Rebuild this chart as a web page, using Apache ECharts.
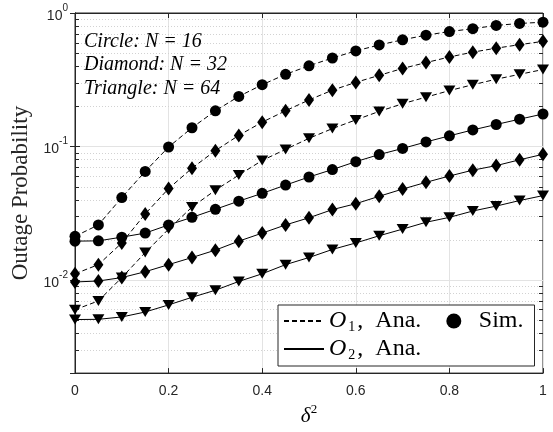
<!DOCTYPE html>
<html>
<head>
<meta charset="utf-8">
<script src="https://cdn.jsdelivr.net/npm/echarts@6/dist/echarts.min.js"></script>
<style>
  html, body { margin: 0; padding: 0; background: #fff; }
  #chart { width: 553px; height: 432px; }
</style>
</head>
<body>
<div id="chart"></div>
<script>
// δ² sweep
const delta2 = [0, 0.05, 0.1, 0.15, 0.2, 0.25, 0.3, 0.35, 0.4, 0.45, 0.5,
                0.55, 0.6, 0.65, 0.7, 0.75, 0.8, 0.85, 0.9, 0.95, 1];

// Outage probability, scheme O1 (dashed)
const o1N16 = [0.0212, 0.0258, 0.0414, 0.065, 0.099, 0.138, 0.185, 0.237, 0.29, 0.347, 0.402,
               0.46, 0.52, 0.576, 0.63, 0.682, 0.726, 0.763, 0.807, 0.835, 0.853];
const o1N32 = [0.0111, 0.013, 0.0189, 0.0312, 0.0483, 0.0687, 0.093, 0.121, 0.152, 0.185, 0.223,
               0.264, 0.302, 0.341, 0.384, 0.425, 0.468, 0.509, 0.545, 0.579, 0.613];
const o1N64 = [0.00597, 0.00695, 0.0104, 0.016, 0.024, 0.0351, 0.047, 0.061, 0.0785, 0.095, 0.115,
               0.136, 0.158, 0.183, 0.209, 0.234, 0.262, 0.29, 0.319, 0.347, 0.377];

// Outage probability, scheme O2 (solid)
const o2N16 = [0.0195, 0.0196, 0.0209, 0.0224, 0.0258, 0.0294, 0.0338, 0.0389, 0.0445, 0.0513, 0.059,
               0.0671, 0.0769, 0.0869, 0.0966, 0.108, 0.12, 0.133, 0.146, 0.16, 0.175];
const o2N32 = [0.00964, 0.0098, 0.0104, 0.0115, 0.013, 0.0147, 0.0167, 0.0195, 0.0224, 0.0258, 0.0292,
               0.0336, 0.0372, 0.0423, 0.0479, 0.0538, 0.06, 0.0664, 0.0718, 0.0794, 0.0873];
const o2N64 = [0.00504, 0.00506, 0.00527, 0.00574, 0.00649, 0.0074, 0.00836, 0.00973, 0.0111, 0.013, 0.0147,
               0.0169, 0.0189, 0.0214, 0.024, 0.027, 0.0294, 0.0328, 0.0357, 0.0393, 0.0428];

// x tick labels
const xTicks = [0, 0.2, 0.4, 0.6, 0.8, 1];
// minor log grid values between decades
const minorGrid = [0.003, 0.004, 0.005, 0.006, 0.007, 0.008, 0.009,
                   0.02, 0.03, 0.04, 0.05, 0.06, 0.07, 0.08, 0.09,
                   0.2, 0.3, 0.4, 0.5, 0.6, 0.7, 0.8, 0.9];
const noteLines = ['Circle: N = 16', 'Diamond: N = 32', 'Triangle: N = 64'];

const AXIS = '#262626';
const GRID = '#e3e3e3';
const SERIF = '"Liberation Serif", "DejaVu Serif", serif';
const SANS = '"Liberation Sans", Arial, sans-serif';

const marks = {
  circle:   { symbol: 'circle', size: 11, rotate: 0 },
  diamond:  { symbol: 'diamond', size: [10, 14], rotate: 0 },
  triangle: { symbol: 'triangle', size: [12, 10], rotate: 180 }
};

const curves = [
  { scheme: 'O1', values: o1N16, mark: 'circle' },
  { scheme: 'O1', values: o1N32, mark: 'diamond' },
  { scheme: 'O1', values: o1N64, mark: 'triangle' },
  { scheme: 'O2', values: o2N16, mark: 'circle' },
  { scheme: 'O2', values: o2N32, mark: 'diamond' },
  { scheme: 'O2', values: o2N64, mark: 'triangle' }
];

const pairs = vals => delta2.map((x, i) => [x, vals[i]]);

const series = [];

// dotted minor grid lines plus the small inner ticks on both vertical edges
series.push({
  type: 'custom',
  silent: true,
  z: 1,
  data: minorGrid.map(v => [0, v]),
  encode: { x: 0, y: 1 },
  renderItem: (params, api) => {
    const cs = params.coordSys;
    const y = Math.round(api.coord([0, api.value(1)])[1]) + 0.5;
    const x0 = cs.x, x1 = cs.x + cs.width;
    return {
      type: 'group',
      children: [
        { type: 'line', shape: { x1: x0, y1: y, x2: x1, y2: y },
          style: { stroke: '#d2d2d2', lineWidth: 1, lineDash: [1, 2] } },
        { type: 'line', shape: { x1: x0, y1: y, x2: x0 + 4, y2: y },
          style: { stroke: AXIS, lineWidth: 1 } },
        { type: 'line', shape: { x1: x1 - 4, y1: y, x2: x1, y2: y },
          style: { stroke: AXIS, lineWidth: 1 } }
      ]
    };
  }
});

curves.forEach(c => {
  series.push({
    name: c.scheme,
    type: 'line',
    data: pairs(c.values),
    symbol: 'none',
    z: 3,
    silent: true,
    lineStyle: { color: '#000', width: 1, type: c.scheme === 'O1' ? [5, 3] : 'solid' },
    itemStyle: { color: '#000' }
  });
});

curves.forEach(c => {
  const m = marks[c.mark];
  series.push({
    name: 'Sim.',
    type: 'scatter',
    data: pairs(c.values),
    symbol: m.symbol,
    symbolSize: m.size,
    symbolRotate: m.rotate,
    z: 4,
    silent: true,
    itemStyle: { color: '#000', opacity: 1 }
  });
});

const decadeLabel = v => {
  const e = Math.log10(v);
  const r = Math.round(e);
  if (Math.abs(e - r) > 1e-6) return '';
  return '{b|10}{p|' + r + '}';
};

const lineOnly = { opacity: 0 };

const chart = echarts.init(document.getElementById('chart'), null, { renderer: 'canvas' });
chart.setOption({
  animation: false,
  backgroundColor: '#fff',
  grid: { left: 75, right: 10, top: 13, bottom: 52, show: true, borderColor: AXIS, borderWidth: 1, backgroundColor: 'transparent' },
  xAxis: [{
    type: 'value', min: 0, max: 1, interval: 0.2,
    name: '{d|δ}{s|2}', nameLocation: 'middle', nameGap: 27,
    nameTextStyle: {
      rich: {
        d: { fontFamily: SERIF, fontStyle: 'italic', fontSize: 21, color: '#000', lineHeight: 24, verticalAlign: 'bottom' },
        s: { fontFamily: SERIF, fontSize: 13, color: '#000', lineHeight: 13, verticalAlign: 'top' }
      }
    },
    axisLine: { show: true, lineStyle: { color: AXIS, width: 1 } },
    axisTick: { show: true, inside: true, length: 5, lineStyle: { color: AXIS } },
    axisLabel: { margin: 11, fontFamily: SANS, fontSize: 14, color: AXIS,
                 formatter: v => xTicks.includes(+v.toFixed(2)) ? String(+v.toFixed(2)) : '' },
    splitLine: { show: true, lineStyle: { color: GRID, width: 1 } }
  }, {
    type: 'value', min: 0, max: 1, interval: 0.2, position: 'top',
    axisLine: { show: true, lineStyle: { color: AXIS, width: 1 } },
    axisTick: { show: true, inside: true, length: 5, lineStyle: { color: AXIS } },
    axisLabel: { show: false }, splitLine: { show: false }
  }],
  yAxis: [{
    type: 'log', logBase: 10, min: 0.002, max: 1,
    name: 'Outage Probability', nameLocation: 'middle', nameGap: 39,
    nameTextStyle: { fontFamily: SERIF, fontSize: 23, color: '#262626' },
    axisLine: { show: true, lineStyle: { color: AXIS, width: 1 } },
    axisTick: { show: true, inside: true, length: 5, lineStyle: { color: AXIS } },
    axisLabel: {
      margin: 7, showMinLabel: false, formatter: decadeLabel,
      rich: {
        b: { fontFamily: SANS, fontSize: 14, color: AXIS, lineHeight: 20, verticalAlign: 'bottom' },
        p: { fontFamily: SANS, fontSize: 10, color: AXIS, lineHeight: 10, verticalAlign: 'top' }
      }
    },
    splitLine: { show: true, lineStyle: { color: GRID, width: 1 } }
  }, {
    type: 'log', logBase: 10, min: 0.002, max: 1, position: 'right',
    axisLine: { show: true, lineStyle: { color: AXIS, width: 1 } },
    axisTick: { show: true, inside: true, length: 5, lineStyle: { color: AXIS } },
    axisLabel: { show: false }, splitLine: { show: false }
  }],
  legend: {
    data: [
      { name: 'O1', itemStyle: lineOnly },
      { name: 'Sim.', icon: 'circle' },
      { name: 'O2', itemStyle: lineOnly }
    ],
    left: 278, top: 305, width: 252,
    orient: 'horizontal',
    selectedMode: false,
    itemWidth: 40, itemHeight: 15, itemGap: 3,
    padding: [4, 4, 4, 5],
    backgroundColor: '#fff',
    borderColor: AXIS, borderWidth: 1, borderRadius: 0,
    formatter: name => name === 'Sim.' ? '{t|Sim.}' : '{o|O}{s|' + name.charAt(1) + '}{u|,  Ana.}',
    textStyle: {
      rich: {
        o: { fontFamily: SERIF, fontStyle: 'italic', fontSize: 24, color: '#000', lineHeight: 26, verticalAlign: 'middle', padding: [0, 1, 0, 0] },
        s: { fontFamily: SERIF, fontSize: 14, color: '#000', lineHeight: 14, verticalAlign: 'bottom', padding: [0, 2, 0, 1] },
        u: { fontFamily: SERIF, fontSize: 24, color: '#000', lineHeight: 26, verticalAlign: 'middle', padding: [0, 22, 0, 0] },
        t: { fontFamily: SERIF, fontSize: 24, color: '#000', lineHeight: 26, verticalAlign: 'middle', padding: [0, 7, 0, 0] }
      }
    }
  },
  graphic: noteLines.map((txt, i) => ({
    type: 'text',
    x: 84, y: 41.7 + i * 23.3,
    z: 10,
    style: { text: txt, fontFamily: SERIF, fontStyle: 'italic', fontSize: 20, fill: '#000', verticalAlign: 'middle' }
  })),
  series: series
});
</script>
</body>
</html>
